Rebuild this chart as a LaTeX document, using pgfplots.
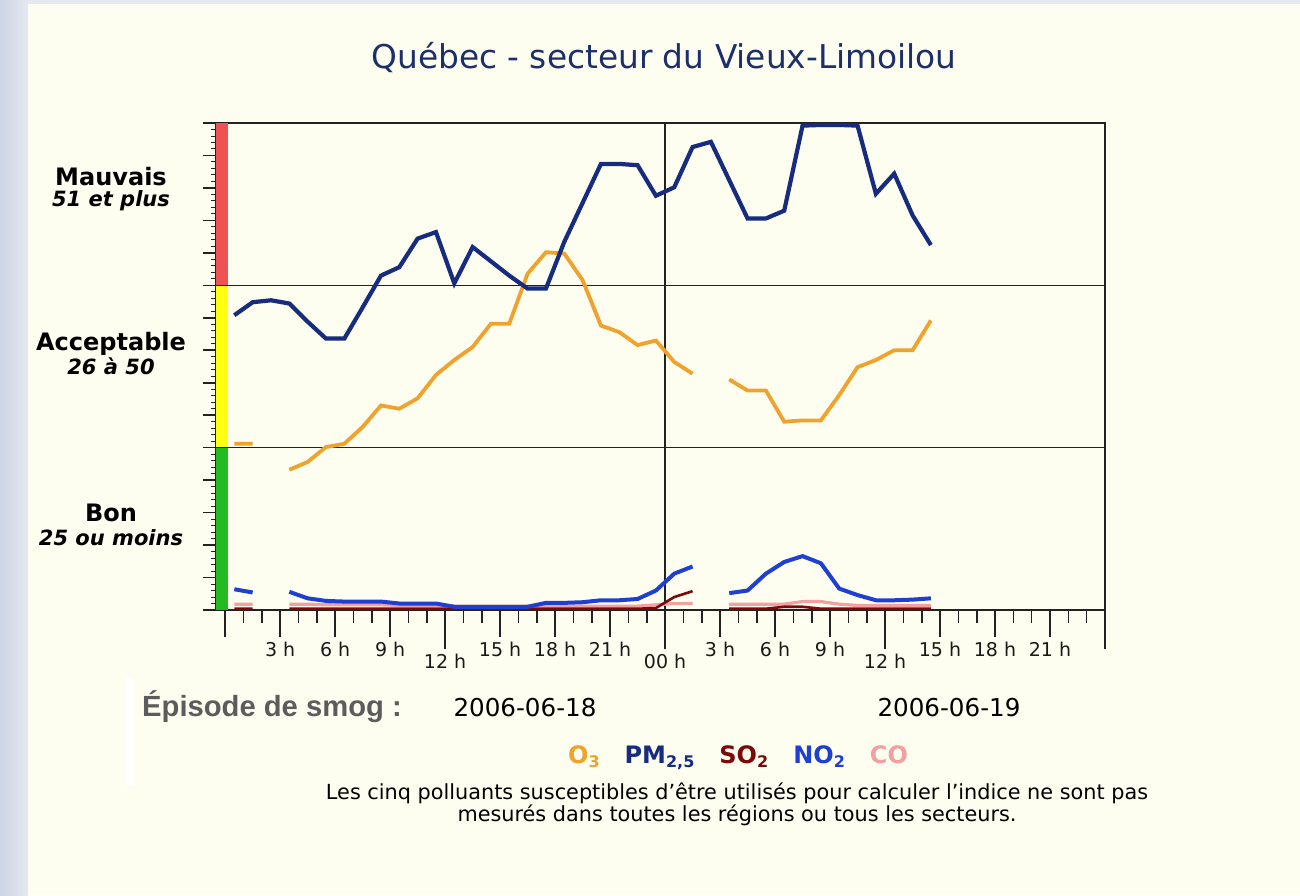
\documentclass[border=0pt]{standalone}
\usepackage{fontspec}
\setmainfont{DejaVu Sans}
\newfontfamily\arialfont{Liberation Sans}
\usepackage{pgfplots}
\pgfplotsset{compat=1.18}
\usepackage{pgfplotstable}

\definecolor{bgc}{HTML}{FEFEF0}
\definecolor{edgeA}{HTML}{CDD5E4}
\definecolor{edgeB}{HTML}{E4E8F0}
\definecolor{o3c}{HTML}{F0A22C}
\definecolor{pmc}{HTML}{172C7E}
\definecolor{so2c}{HTML}{7A0A0A}
\definecolor{no2c}{HTML}{1E3FD2}
\definecolor{coc}{HTML}{F2A0A0}
\definecolor{titlec}{HTML}{1C2F6B}
\definecolor{barr}{HTML}{EE5252}
\definecolor{bary}{HTML}{FFFF10}
\definecolor{barg}{HTML}{22BB22}
\definecolor{grayt}{HTML}{5C5C5C}
\definecolor{axc}{HTML}{222222}

\pgfplotstableread{
x    o3   pm   so2  no2  co
0.5  25.6 45.4 0.2  3.2  0.9
1.5  25.6 47.4 0.2  2.7  0.9
2.5  nan  47.7 nan  nan  nan
3.5  21.6 47.2 0.2  2.8  0.9
4.5  22.8 44.4 0.2  1.8  0.9
5.5  25.1 41.8 0.2  1.4  0.8
6.5  25.6 41.8 0.2  1.3  0.8
7.5  28.2 46.6 0.2  1.3  0.8
8.5  31.5 51.5 0.2  1.3  0.8
9.5  31.0 52.8 0.2  1.0  0.7
10.5 32.6 57.2 0.2  1.0  0.7
11.5 36.2 58.2 0.2  1.0  0.7
12.5 38.5 50.3 0.2  0.5  0.6
13.5 40.5 55.9 0.2  0.5  0.6
14.5 44.1 53.7 0.2  0.5  0.6
15.5 44.1 51.5 0.2  0.5  0.6
16.5 51.8 49.5 0.2  0.5  0.6
17.5 55.1 49.5 0.2  1.1  0.6
18.5 54.9 56.7 0.2  1.1  0.6
19.5 50.8 62.7 0.2  1.2  0.6
20.5 43.8 68.7 0.2  1.5  0.6
21.5 42.8 68.7 0.2  1.5  0.6
22.5 40.8 68.5 0.2  1.7  0.6
23.5 41.5 63.8 0.3  3.0  0.8
24.5 38.2 65.1 2.0  5.6  1.0
25.5 36.4 71.3 2.9  6.7  1.0
26.5 nan  72.1 nan  nan  nan
27.5 35.5 66.2 0.2  2.6  0.9
28.5 33.8 60.3 0.2  3.0  0.9
29.5 33.8 60.3 0.2  5.6  0.9
30.5 29.0 61.5 0.5  7.4  0.9
31.5 29.2 74.6 0.5  8.3  1.3
32.5 29.2 74.7 0.2  7.2  1.3
33.5 33.1 74.7 0.2  3.3  0.9
34.5 37.4 74.6 0.2  2.3  0.7
35.5 38.5 64.1 0.2  1.5  0.7
36.5 40.0 67.2 0.2  1.5  0.7
37.5 40.0 60.8 0.2  1.6  0.7
38.5 44.6 56.2 0.2  1.8  0.7
}\data

\begin{document}
\begin{tikzpicture}
% background in pixel units
\begin{scope}[x=0.5pt,y=-0.5pt]
\fill[bgc] (0,0) rectangle (1300,895);
\shade[left color=edgeA, right color=edgeB] (0,0) rectangle (28,895);
\fill[edgeB] (28,0) rectangle (1300,4);
\fill[white] (126,678) rectangle (134,785);
\end{scope}

\begin{axis}[
  at={(108pt,-305pt)}, anchor=south west,
  scale only axis, width=444.5pt, height=243.5pt,
  xmin=-0.5, xmax=48, ymin=0, ymax=75,
  axis line style={draw=axc, line width=0.8pt},
  tick align=outside,
  xtick pos=left,
  xtick={0,3,...,48},
  xticklabels={,3 h,6 h,9 h,,15 h,18 h,21 h,,3 h,6 h,9 h,,15 h,18 h,21 h,},
  minor x tick num=2,
  major tick length=13.5pt, minor tick length=6.5pt,
  extra x ticks={12,24,36,48},
  extra x tick labels={12 h,00 h,12 h,},
  extra x tick style={major tick length=19.5pt},
  ytick=\empty,
  tick style={draw=axc, line width=0.8pt},
  every tick label/.append style={font=\fontsize{9.5}{11}\selectfont, text=black!90, inner sep=2.5pt},
  unbounded coords=jump,
  clip=false,
]
\fill[barr] (axis cs:-0.5,50) rectangle (axis cs:0.17,75);
\fill[bary] (axis cs:-0.5,25) rectangle (axis cs:0.17,50);
\fill[barg] (axis cs:-0.5,0) rectangle (axis cs:0.17,25);
\pgfplotsinvokeforeach{0,1,...,75}{\draw[axc,line width=0.5pt] (axis cs:-0.5,#1) -- ++(-2.5pt,0pt);}
\pgfplotsinvokeforeach{0,5,...,75}{\draw[axc,line width=0.8pt] (axis cs:-0.5,#1) -- ++(-6.5pt,0pt);}
\draw[axc,line width=0.8pt] (axis cs:-0.5,25) -- (axis cs:48,25);
\draw[axc,line width=0.8pt] (axis cs:-0.5,50) -- (axis cs:48,50);
\draw[axc,line width=0.8pt] (axis cs:24,0) -- (axis cs:24,75);
\addplot[coc, line width=1.6pt] table[x=x,y=co] {\data};
\addplot[so2c, line width=1.3pt] table[x=x,y=so2] {\data};
\addplot[no2c, line width=2.0pt] table[x=x,y=no2] {\data};
\addplot[o3c, line width=1.9pt] table[x=x,y=o3] {\data};
\addplot[pmc, line width=2.1pt] table[x=x,y=pm] {\data};
\end{axis}

\begin{scope}[x=0.5pt,y=-0.5pt]
\node[text=titlec, font=\fontsize{16.4}{19}\selectfont] at (664,57) {Québec - secteur du Vieux-Limoilou};
\node[font=\bfseries\fontsize{12}{14}\selectfont] at (111,177) {Mauvais};
\node[font=\bfseries\itshape\fontsize{10.5}{12}\selectfont] at (111,201) {51 et plus};
\node[font=\bfseries\fontsize{12}{14}\selectfont] at (111,344) {Acceptable};
\node[font=\bfseries\itshape\fontsize{10.5}{12}\selectfont] at (111,366) {26 à 50};
\node[font=\bfseries\fontsize{12}{14}\selectfont] at (111,513) {Bon};
\node[font=\bfseries\itshape\fontsize{10.5}{12}\selectfont] at (111,538) {25 ou moins};
\node[text=grayt, font=\arialfont\bfseries\fontsize{14.6}{16}\selectfont] at (272,707) {Épisode de smog :};
\node[font=\fontsize{12.3}{14}\selectfont] at (525,708) {2006-06-18};
\node[font=\fontsize{12.3}{14}\selectfont] at (949,708) {2006-06-19};
\node[font=\bfseries\fontsize{12}{14}\selectfont] at (738,758) {{\color{o3c}O\textsubscript{3}}\hspace{12pt}{\color{pmc}PM\textsubscript{2,5}}\hspace{12pt}{\color{so2c}SO\textsubscript{2}}\hspace{12pt}{\color{no2c}NO\textsubscript{2}}\hspace{12pt}{\color{coc}CO}};
\node[font=\fontsize{10.4}{11}\selectfont, align=center] at (737,804) {Les cinq polluants susceptibles d'être utilisés pour calculer l'indice ne sont pas\\mesurés dans toutes les régions ou tous les secteurs.};
\end{scope}
\end{tikzpicture}
\end{document}
